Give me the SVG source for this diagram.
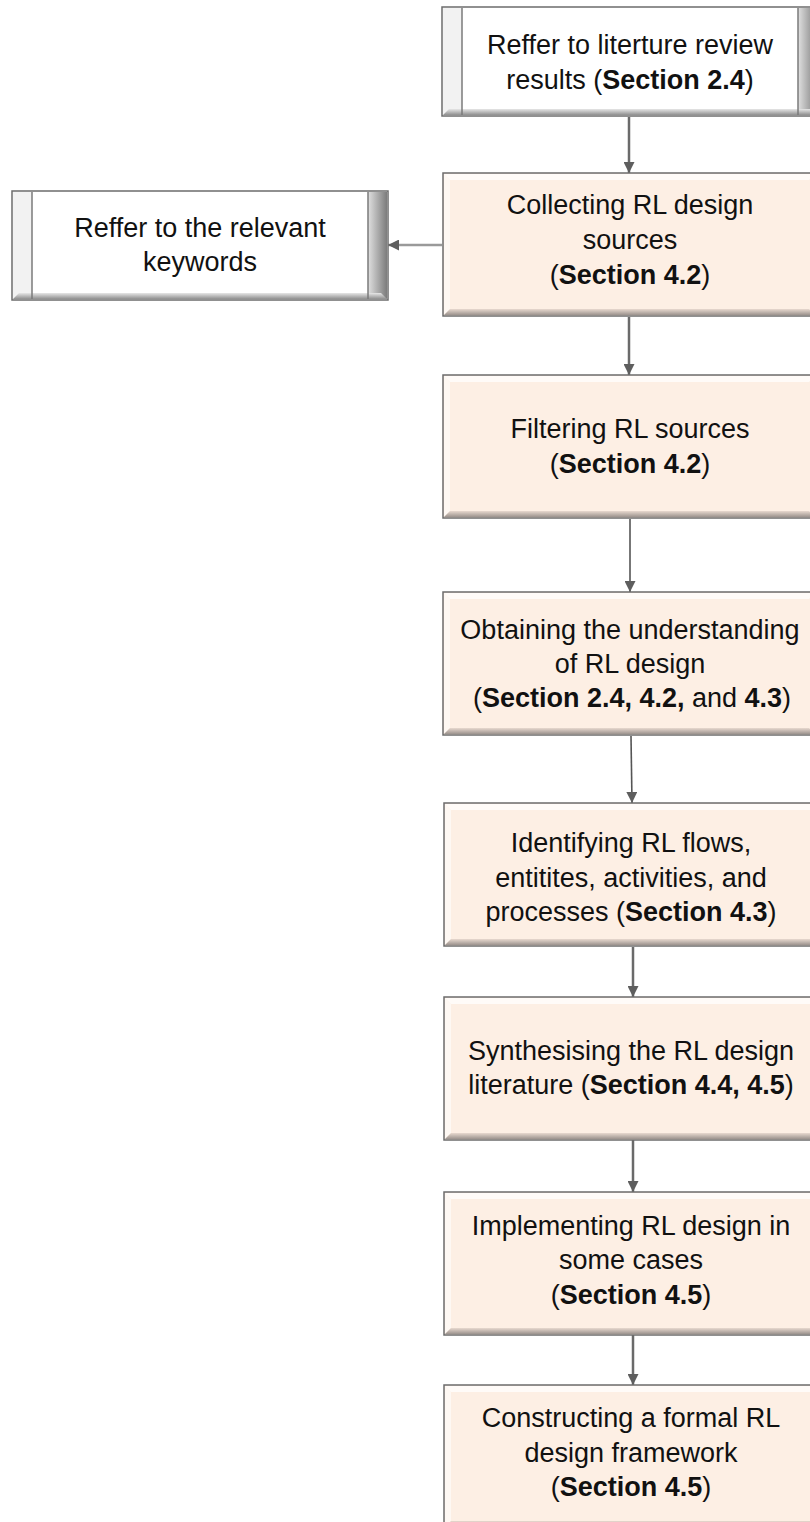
<svg xmlns="http://www.w3.org/2000/svg" xmlns:xlink="http://www.w3.org/1999/xlink" width="810" height="1522" viewBox="0 0 810 1522">
  <style>
    .lbl { font-family: "Liberation Sans", Arial, sans-serif; font-size: 27px; fill: #111111; text-anchor: middle; }
    .b { font-weight: bold; }
    .conn { stroke: #6a6a6a; stroke-width: 2.5; fill: none; }
    .conn-thin { stroke: #555555; stroke-width: 1.6; fill: none; }
    .conn-light { stroke: #9a9a9a; stroke-width: 2.5; fill: none; }
  </style>
  <defs>
    <linearGradient id="shadeBottom" x1="0" y1="0" x2="0" y2="1">
      <stop offset="0" stop-color="#e8d9cf"/>
      <stop offset="1" stop-color="#9c938e"/>
    </linearGradient>
    <linearGradient id="shadeBottomW" x1="0" y1="0" x2="0" y2="1">
      <stop offset="0" stop-color="#e6e6e6"/>
      <stop offset="1" stop-color="#8f8f8f"/>
    </linearGradient>
    <linearGradient id="shadeRightW" x1="0" y1="0" x2="1" y2="0">
      <stop offset="0" stop-color="#e0e0e0"/>
      <stop offset="1" stop-color="#7c7c7c"/>
    </linearGradient>
    <marker id="arrow" viewBox="0 0 10 10" refX="10" refY="5" markerWidth="11" markerHeight="11" markerUnits="userSpaceOnUse" orient="auto">
      <path d="M0,0 L10,5 L0,10 z" fill="#5e5e5e"/>
    </marker>
    <!-- bevelled process step, 373 x 143 -->
    <g id="stepBox">
      <rect x="0" y="0" width="373" height="143" fill="#fdefe4" stroke="#6c6c6c" stroke-width="1.5"/>
      <polygon points="1,1 372,1 366,7 7,7" fill="#ffffff" opacity="0.75"/>
      <polygon points="1,1 7,7 7,136 1,142" fill="#ffffff" opacity="0.55"/>
      <polygon points="1,142 7,136 366,136 372,142" fill="url(#shadeBottom)"/>
    </g>
    <!-- bevelled predefined-process box, 376 x 109 -->
    <g id="refBox">
      <rect x="0" y="0" width="376" height="109" fill="#ffffff" stroke="#6c6c6c" stroke-width="1.5"/>
      <polygon points="1,1 20,1 20,103 1,108" fill="#f2f2f2"/>
      <polygon points="356,1 375,1 375,108 356,103" fill="url(#shadeRightW)"/>
      <polygon points="1,108 7,102 369,102 375,108" fill="url(#shadeBottomW)"/>
      <line x1="20" y1="1" x2="20" y2="108" stroke="#7a7a7a" stroke-width="1.5"/>
      <line x1="356" y1="1" x2="356" y2="108" stroke="#7a7a7a" stroke-width="1.5"/>
    </g>
  </defs>

  <rect x="0" y="0" width="810" height="1522" fill="#ffffff"/>

  <!-- connectors -->
  <g id="connectors">
    <line class="conn" x1="629" y1="117" x2="629" y2="173" marker-end="url(#arrow)"/>
    <line class="conn-light" x1="442" y1="245" x2="388" y2="245" marker-end="url(#arrow)"/>
    <line class="conn" x1="629" y1="317" x2="629" y2="375" marker-end="url(#arrow)"/>
    <line class="conn-thin" x1="630" y1="519" x2="630" y2="592" marker-end="url(#arrow)"/>
    <line class="conn-thin" x1="631" y1="736" x2="632" y2="803" marker-end="url(#arrow)"/>
    <line class="conn" x1="633" y1="947" x2="633" y2="997" marker-end="url(#arrow)"/>
    <line class="conn" x1="633" y1="1140" x2="633" y2="1192" marker-end="url(#arrow)"/>
    <line class="conn" x1="633" y1="1335" x2="633" y2="1385" marker-end="url(#arrow)"/>
  </g>

  <g id="node-literature-review">
    <use xlink:href="#refBox" x="442" y="7"/>
    <text class="lbl" x="630" y="54">Reffer to literture review</text>
    <text class="lbl" x="630" y="89">results (<tspan class="b">Section 2.4</tspan>)</text>
  </g>

  <g id="node-keywords">
    <use xlink:href="#refBox" x="12" y="191"/>
    <text class="lbl" x="200" y="237">Reffer to the relevant</text>
    <text class="lbl" x="200" y="271">keywords</text>
  </g>

  <g id="node-collecting">
    <use xlink:href="#stepBox" x="443" y="173"/>
    <text class="lbl" x="630" y="214">Collecting RL design</text>
    <text class="lbl" x="630" y="249">sources</text>
    <text class="lbl" x="630" y="284">(<tspan class="b">Section 4.2</tspan>)</text>
  </g>

  <g id="node-filtering">
    <use xlink:href="#stepBox" x="443" y="375"/>
    <text class="lbl" x="630" y="438">Filtering RL sources</text>
    <text class="lbl" x="630" y="473">(<tspan class="b">Section 4.2</tspan>)</text>
  </g>

  <g id="node-understanding">
    <use xlink:href="#stepBox" x="443" y="592"/>
    <text class="lbl" x="630" y="639">Obtaining the understanding</text>
    <text class="lbl" x="630" y="673">of RL design</text>
    <text class="lbl" x="632" y="707">(<tspan class="b">Section 2.4, 4.2,</tspan> and <tspan class="b">4.3</tspan>)</text>
  </g>

  <g id="node-identifying">
    <use xlink:href="#stepBox" x="444" y="803"/>
    <text class="lbl" x="631" y="852">Identifying RL flows,</text>
    <text class="lbl" x="631" y="887">entitites, activities, and</text>
    <text class="lbl" x="631" y="921">processes (<tspan class="b">Section 4.3</tspan>)</text>
  </g>

  <g id="node-synthesising">
    <use xlink:href="#stepBox" x="444" y="997"/>
    <text class="lbl" x="631" y="1060">Synthesising the RL design</text>
    <text class="lbl" x="631" y="1094">literature (<tspan class="b">Section 4.4, 4.5</tspan>)</text>
  </g>

  <g id="node-implementing">
    <use xlink:href="#stepBox" x="444" y="1192"/>
    <text class="lbl" x="631" y="1235">Implementing RL design in</text>
    <text class="lbl" x="631" y="1269">some cases</text>
    <text class="lbl" x="631" y="1304">(<tspan class="b">Section 4.5</tspan>)</text>
  </g>

  <g id="node-framework">
    <use xlink:href="#stepBox" x="444" y="1385"/>
    <text class="lbl" x="631" y="1427">Constructing a formal RL</text>
    <text class="lbl" x="631" y="1462">design framework</text>
    <text class="lbl" x="631" y="1496">(<tspan class="b">Section 4.5</tspan>)</text>
  </g>
</svg>
